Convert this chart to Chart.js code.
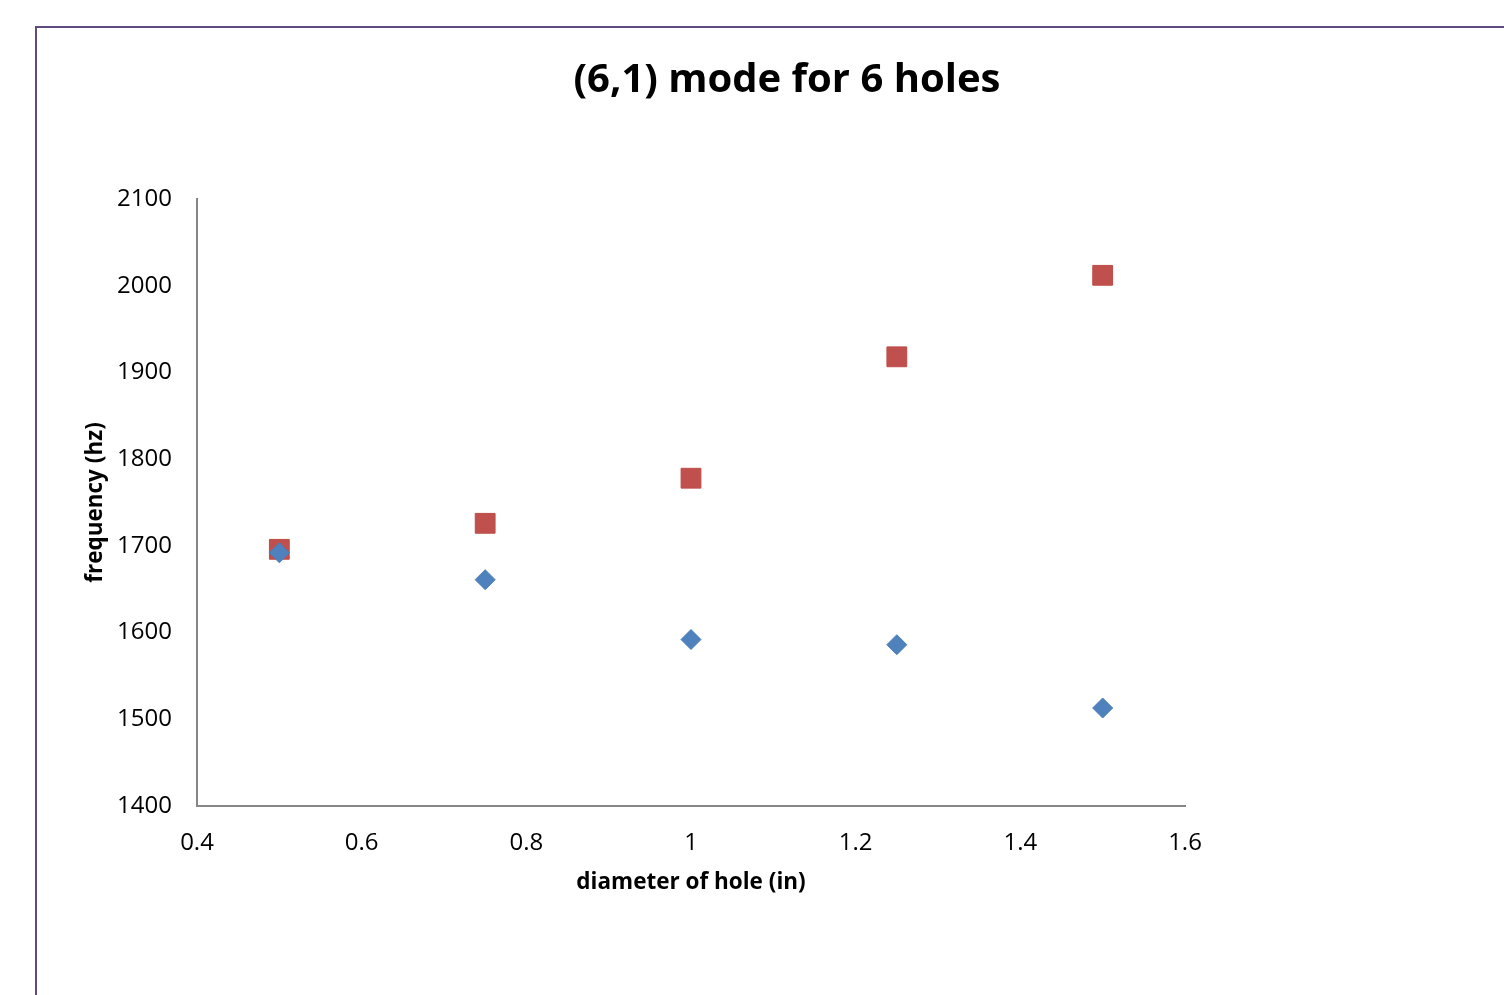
<!DOCTYPE html>
<html>
<head>
<meta charset="utf-8">
<script src="https://cdn.jsdelivr.net/npm/chart.js@4"></script>
<style>
  html, body { margin: 0; padding: 0; background: #ffffff; overflow: hidden; }
  #wrap { position: relative; width: 1504px; height: 995px; overflow: hidden; }
  #frame { position: absolute; left: 35px; top: 26px; width: 1600px; height: 1100px; border: 2px solid #5F4B7D; box-sizing: border-box; }
  canvas { position: absolute; left: 0; top: 0; }
</style>
</head>
<body>
<div id="wrap">
  <div id="frame"></div>
  <canvas id="c" width="1574" height="995"></canvas>
</div>
<script>
const chartTitle = "(6,1) mode for 6 holes";
const xTitle = "diameter of hole (in)";
const yTitle = "frequency (hz)";
const diameters = [0.5, 0.75, 1.0, 1.25, 1.5];
const seriesBlue = [1692, 1661, 1592, 1586, 1513];
const seriesRed = [1696, 1726, 1778, 1918, 2012];
const xTicks = [0.4, 0.6, 0.8, 1, 1.2, 1.4, 1.6];
const yTicks = [1400, 1500, 1600, 1700, 1800, 1900, 2000, 2100];

const FONT = "'Open Sans', 'Liberation Sans', sans-serif";

const toPoints = (xs, ys) => xs.map((x, i) => ({ x: x, y: ys[i] }));

new Chart(document.getElementById('c'), {
  type: 'scatter',
  data: {
    datasets: [
      {
        label: 'Series1',
        data: toPoints(diameters, seriesBlue),
        pointStyle: 'rectRot',
        pointRadius: 10,
        pointHoverRadius: 10,
        backgroundColor: '#4F81BD',
        borderColor: '#4A7EBB',
        borderWidth: 1
      },
      {
        label: 'Series2',
        data: toPoints(diameters, seriesRed),
        pointStyle: 'rect',
        pointRadius: 14,
        pointHoverRadius: 14,
        backgroundColor: '#C0504D',
        borderColor: '#BE4B48',
        borderWidth: 1
      }
    ]
  },
  options: {
    responsive: false,
    animation: false,
    devicePixelRatio: 1,
    layout: { padding: { left: 0, right: 0, top: 0, bottom: 94 } },
    plugins: {
      legend: { display: false },
      tooltip: { enabled: false },
      title: {
        display: true,
        text: chartTitle,
        color: '#000000',
        font: { family: FONT, size: 40, weight: 'bold', lineHeight: 1.2 },
        padding: { top: 57, bottom: 94 }
      }
    },
    scales: {
      x: {
        type: 'linear',
        min: 0.4,
        max: 1.6,
        afterBuildTicks: (scale) => { scale.ticks = xTicks.map(v => ({ value: v })); },
        afterFit: (scale) => { scale.height = 95; },
        grid: { display: false, drawTicks: false },
        border: { display: true, color: '#868686', width: 2 },
        ticks: {
          color: '#000000',
          padding: 23,
          maxRotation: 0,
          autoSkip: false,
          font: { family: FONT, size: 24 },
          callback: (v) => String(Math.round(v * 10) / 10)
        },
        title: {
          display: true,
          text: xTitle,
          color: '#000000',
          font: { family: FONT, size: 22.5, weight: 'bold', lineHeight: 1.2 },
          padding: { top: 0, bottom: 5 }
        }
      },
      y: {
        type: 'linear',
        min: 1400,
        max: 2100,
        afterBuildTicks: (scale) => { scale.ticks = yTicks.map(v => ({ value: v })); },
        afterFit: (scale) => { scale.width = 197; },
        grid: { display: false, drawTicks: false },
        border: { display: true, color: '#868686', width: 2 },
        ticks: {
          color: '#000000',
          padding: 25,
          autoSkip: false,
          font: { family: FONT, size: 24 },
          callback: (v) => String(v)
        },
        title: {
          display: true,
          text: yTitle,
          color: '#000000',
          font: { family: FONT, size: 22.5, weight: 'bold', lineHeight: 1.2 },
          padding: { top: 82, bottom: 0 }
        }
      },
      spacer: {
        type: 'linear',
        position: 'right',
        min: 0,
        max: 1,
        afterFit: (scale) => { scale.width = 389; },
        grid: { display: false, drawTicks: false },
        border: { display: false },
        ticks: { display: false },
        title: { display: false }
      }
    }
  }
});
</script>
</body>
</html>
